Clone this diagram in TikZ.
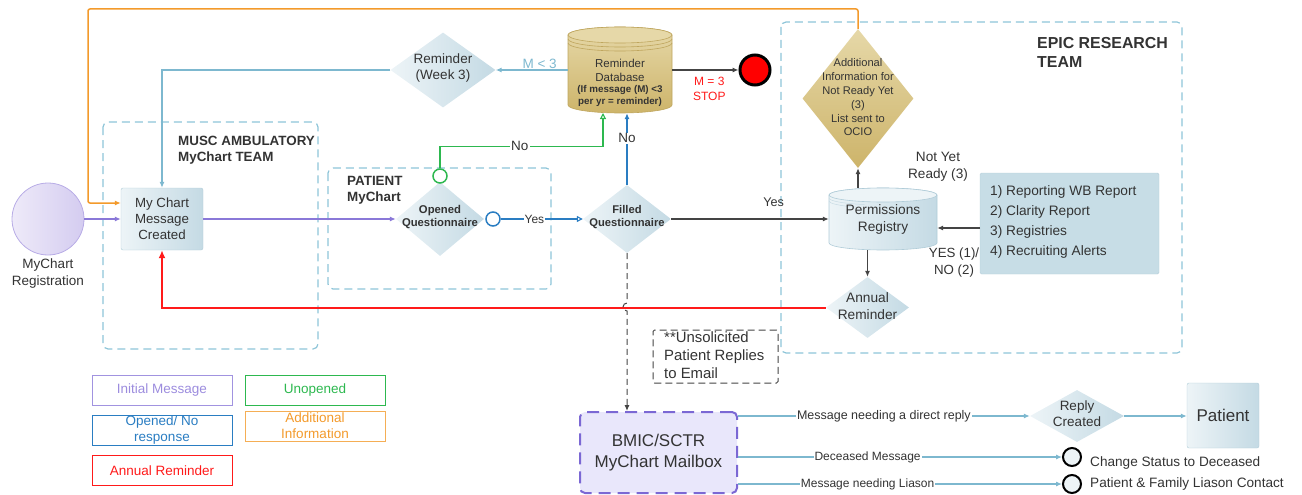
\documentclass[tikz,border=0pt]{standalone}
\usepackage{fontspec}
\setmainfont{Liberation Sans}
\usetikzlibrary{shapes.geometric,arrows.meta}
\definecolor{txt}{HTML}{333333}
\definecolor{purp}{HTML}{8A78D8}
\definecolor{purpL}{HTML}{EEEAF9}
\definecolor{purpR}{HTML}{D4CCF0}
\definecolor{purpB}{HTML}{B8ACE6}
\definecolor{bluec}{HTML}{2A7DC2}
\definecolor{greenc}{HTML}{2DB84F}
\definecolor{orangec}{HTML}{F39A2B}
\definecolor{redc}{HTML}{FF1A1A}
\definecolor{lblue}{HTML}{7DB8CF}
\definecolor{dashc}{HTML}{8EC5D8}
\definecolor{nodeL}{HTML}{EDF4F7}
\definecolor{nodeR}{HTML}{C4DAE4}
\definecolor{nodeB}{HTML}{B0CCD8}
\definecolor{tanT}{HTML}{E6D8A8}
\definecolor{tanB}{HTML}{CDB46A}
\definecolor{tanD}{HTML}{BFA65E}
\definecolor{listF}{HTML}{C7DDE6}
\definecolor{listB}{HTML}{B5CED9}
\definecolor{mailF}{HTML}{E9E7FB}
\definecolor{mailB}{HTML}{7B68D4}
\definecolor{linec}{HTML}{444444}
\newcommand{\fsz}[2]{\fontsize{#1}{#2}\selectfont}
\begin{document}
\begin{tikzpicture}[x=1pt,y=-1pt,
  every node/.style={text=txt},
  t/.style={inner sep=0pt, align=center},
  arr/.style={-{Latex[length=6pt,width=5pt]}},
  oarr/.style={-{Triangle[open,length=6pt,width=6pt]}},
  grp/.style={draw=dashc, line width=1.2pt, dash pattern=on 8pt off 5pt, rounded corners=5pt},
  bluebox/.style={draw=nodeB, left color=nodeL, right color=nodeR, rounded corners=2pt, inner sep=0pt, align=center},
  bluedia/.style={diamond, inner sep=0pt, left color=nodeL, right color=nodeR},
  tandia/.style={diamond, inner sep=0pt, top color=tanT, bottom color=tanB},
  leg/.style={draw, line width=1pt, minimum width=140pt, minimum height=30pt, inner sep=0pt, align=center, font=\fsz{13.5}{14}},
  lab/.style={fill=white, inner sep=1pt},
  conn/.style={line width=1.1pt},
  smallc/.style={circle, draw=black, line width=2pt, fill=nodeL, minimum size=18pt, inner sep=0pt}
]
\useasboundingbox (0,0) rectangle (1302,495);

% ---- groups
\draw[grp] (103,122) rectangle (318,349);
\draw[grp] (328,168) rectangle (551,289);
\draw[grp] (781,22) rectangle (1182,353);
\node[t, anchor=west, align=left, font=\bfseries\fsz{13.4}{16}] (muscT) at (178,150) {MUSC AMBULATORY\\MyChart TEAM};
\node[t, anchor=west, align=left, font=\bfseries\fsz{13.4}{16}] (patT) at (347,190) {PATIENT\\MyChart};
\node[t, anchor=west, align=left, font=\bfseries\fsz{15.9}{19}] (epicT) at (1037,52) {EPIC RESEARCH\\TEAM};

% ---- nodes
\node[circle, draw=purpB, line width=0.8pt, left color=purpL, right color=purpR, minimum size=72pt, inner sep=0pt] (reg) at (48,219) {};
\node[t, font=\fsz{13.5}{17}] (regT) at (48,274) {MyChart\\Registration};
\node[bluebox, minimum width=82pt, minimum height=62pt, font=\fsz{13.3}{16}] (msg) at (162,219) {My Chart\\Message\\Created};

\node[bluedia, minimum width=105pt, minimum height=75pt] (rem) at (443,70) {};
\node[t, font=\fsz{13.5}{16}] (remT) at (443,68) {Reminder\\(Week 3)};

% reminder database cylinder
\node[inner sep=0pt, minimum width=104pt, minimum height=86pt] (db) at (620,70) {};
\path[draw=tanD, line width=0.6pt, top color=tanT, bottom color=tanB] (568,35) -- (568,105) arc[start angle=180, end angle=360, x radius=52pt, y radius=8pt] -- (672,35) arc[start angle=0, end angle=180, x radius=52pt, y radius=8pt] -- cycle;
\draw[tanD, line width=0.6pt, fill=tanT] (620,35) ellipse[x radius=52pt, y radius=8pt];
\draw[tanD, line width=0.6pt] (568,39) arc[start angle=180, end angle=360, x radius=52pt, y radius=8pt];
\draw[tanD, line width=0.6pt] (568,43) arc[start angle=180, end angle=360, x radius=52pt, y radius=8pt];
\node[t, font=\fsz{11.5}{14}] (dbT1) at (620,70) {Reminder\\Database};
\node[t, font=\bfseries\fsz{9.8}{11.5}] (dbT2) at (620,96) {(If message (M) <3\\per yr = reminder)};

\node[circle, fill=red, draw=black, line width=3pt, minimum size=30pt, inner sep=0pt] (stop) at (755,70) {};

\node[bluedia, minimum width=88pt, minimum height=74pt] (op) at (440,219) {};
\node[t, font=\bfseries\fsz{11.3}{13}] (opT) at (440,217) {Opened\\Questionnaire};
\node[circle, draw=greenc, line width=1.5pt, fill=white, minimum size=14pt, inner sep=0pt] (gc) at (440,176) {};
\node[circle, draw=bluec, line width=1.5pt, fill=white, minimum size=14pt, inner sep=0pt] (bc) at (493,219) {};

\node[bluedia, minimum width=88pt, minimum height=68pt] (fil) at (627,219) {};
\node[t, font=\bfseries\fsz{11.2}{13}] (filT) at (627,217) {Filled\\Questionnaire};

\node[tandia, minimum width=111pt, minimum height=139pt] (add) at (858,98.5) {};
\node[t, font=\fsz{11.1}{13.8}] (addT) at (858,97.5) {Additional\\Information for\\Not Ready Yet\\(3)\\List sent to\\OCIO};

% permissions registry cylinder
\node[inner sep=0pt, minimum width=108pt, minimum height=62pt] (pr) at (883,219) {};
\path[draw=nodeB, line width=0.6pt, left color=nodeL, right color=nodeR] (829,195) -- (829,243) arc[start angle=180, end angle=360, x radius=54pt, y radius=7pt] -- (937,195) arc[start angle=0, end angle=180, x radius=54pt, y radius=7pt] -- cycle;
\draw[nodeB, line width=0.6pt, fill=nodeL] (883,195) ellipse[x radius=54pt, y radius=7pt];
\draw[nodeB!70, line width=0.5pt] (829,198) arc[start angle=180, end angle=250, x radius=54pt, y radius=7pt];
\draw[nodeB!70, line width=0.5pt] (829,201) arc[start angle=180, end angle=240, x radius=54pt, y radius=7pt];
\node[t, font=\fsz{13.7}{17}] (prT) at (883,219) {Permissions\\Registry};

\node[draw=listB, fill=listF, rounded corners=1.5pt, minimum width=179pt, minimum height=101pt, inner sep=0pt] (list) at (1069.5,223.5) {};
\node[t, anchor=west, align=left, font=\fsz{13.7}{20}] (listT) at (990,222) {1) Reporting WB Report\\2) Clarity Report\\3) Registries\\4) Recruiting Alerts};

\node[bluedia, minimum width=83pt, minimum height=61pt] (ann) at (867.5,307.5) {};
\node[t, font=\fsz{13.7}{17}] (annT) at (867.5,306) {Annual\\Reminder};

\node[draw=linec, line width=1pt, dash pattern=on 7pt off 4pt, rounded corners=1.5pt, minimum width=125pt, minimum height=53pt, inner sep=0pt] (uns) at (715.5,356.5) {};
\node[t, anchor=west, align=left, font=\fsz{14.9}{18}] (unsT) at (664,355) {**Unsolicited\\Patient Replies\\to Email};

\node[draw=mailB, line width=2pt, dash pattern=on 12pt off 7pt, fill=mailF, rounded corners=5pt, minimum width=157pt, minimum height=81pt, inner sep=0pt, align=center, font=\fsz{17}{21}] (bmic) at (658.5,452.5) {BMIC/SCTR\\MyChart Mailbox};

\node[bluedia, minimum width=94pt, minimum height=52pt] (rep) at (1077,416) {};
\node[t, font=\fsz{13.5}{16}] (repT) at (1077,414) {Reply\\Created};
\node[bluebox, minimum width=72pt, minimum height=65pt, font=\fsz{17}{20}] (pat) at (1223,415.5) {Patient};

\node[smallc] (c1) at (1072,457) {};
\node[smallc] (c2) at (1072,484) {};
\node[t, anchor=west, font=\fsz{13.6}{16}] (c1T) at (1090,463) {Change Status to Deceased};
\node[t, anchor=west, font=\fsz{13.6}{16}] (c2T) at (1090,484) {Patient \& Family Liason Contact};

\node[t, font=\fsz{13.6}{17}] (nyT) at (938,167) {Not Yet\\Ready (3)};
\node[t, font=\fsz{13.3}{17}] (yesno) at (954,262.5) {YES (1)/\\NO (2)};

% ---- legend
\node[leg, draw=purp!80, text=purp!85] (l1) at (162,390) {Initial Message};
\node[leg, draw=bluec, text=bluec, font=\fsz{13.5}{16}] (l2) at (162,430) {Opened/ No\\response};
\node[leg, draw=redc, text=redc] (l3) at (162,470.5) {Annual Reminder};
\node[leg, draw=greenc, text=greenc] (l4) at (315,390) {Unopened};
\node[leg, draw=orangec!80, text=orangec, font=\fsz{13.5}{16}] (l5) at (315,426) {Additional\\Information};

% ---- connectors
\coordinate (o3) at (88,203);
\draw[orangec, line width=1.5pt, arr, rounded corners=2pt] (add.north) -- (858,9) -| (o3) -- (msg.west |- o3);
\draw[purp, conn, arr] (reg) -- (msg);
\draw[purp, conn, arr] (msg) -- (op);
\draw[lblue, conn, arr] (rem.west) -| (msg.north);
\draw[lblue, conn, arr] (db.west) -- node[pos=.39, above=1pt, inner sep=0pt, text=lblue, font=\fsz{13.5}{16}] {M < 3} (rem.east);
\draw[linec, conn, arr] (db.east) -- node[pos=.56, below=7pt, t, text=redc, font=\fsz{12}{15}] {M = 3\\STOP} (stop.west);
\coordinate (gt) at (603,113);
\draw[greenc, conn, oarr] (gc.north) -- ++(0,-22) -| node[pos=.245, lab, font=\fsz{13.5}{16}] {No} (gt);
\draw[bluec, conn, oarr] (bc.east) -- node[pos=.41, lab, font=\fsz{12}{14}] {Yes} (fil.west);
\draw[bluec, conn, arr] (fil.north) -- node[pos=.65, lab, font=\fsz{13.5}{16}] {No} (fil.north |- db.south);
\draw[linec, conn, arr] (fil.east) -- node[pos=.65, above=12pt, inner sep=0pt, font=\fsz{12.6}{15}] {Yes} (pr.west);
\draw[linec, conn, arr] (pr.north -| add.south) -- (add.south);
\coordinate (la) at (980,228);
\draw[linec, conn, arr] (la) -- (pr.east |- la);
\draw[linec, conn, arr] (pr.south -| ann.north) -- (ann.north);
\draw[redc, line width=2pt, -{Latex[length=8pt,width=7pt]}] (ann.west) -| (msg.south);
\draw[linec, line width=1pt, dash pattern=on 6pt off 4pt, arr] (fil.south) -- (627,303) arc[start angle=90, end angle=270, radius=4pt] -- (bmic.north -| fil.south);
\draw[lblue, conn, arr] (bmic.east |- rep) -- node[pos=.5, lab, font=\fsz{12.5}{15}] {Message needing a direct reply} (rep.west);
\draw[lblue, conn, arr] (rep.east) -- (pat.west |- rep);
\draw[lblue, conn, arr] (bmic.east |- c1) -- node[pos=.4, lab, font=\fsz{12}{15}] {Deceased Message} (c1.west);
\draw[lblue, conn, arr] (bmic.east |- c2) -- node[pos=.4, lab, font=\fsz{12}{15}] {Message needing Liason} (c2.west);
\end{tikzpicture}
\end{document}
